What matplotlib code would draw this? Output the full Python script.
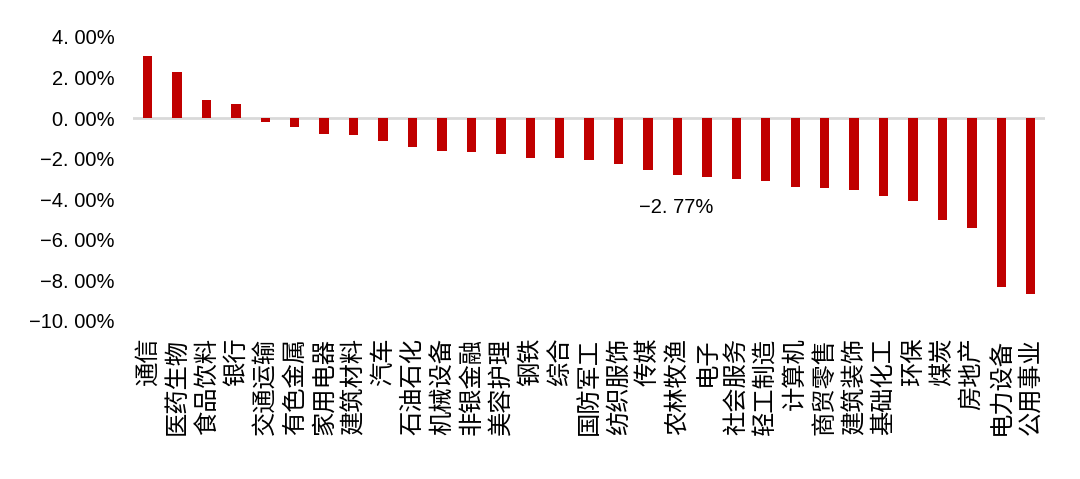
import matplotlib
matplotlib.use("Agg")
import matplotlib.pyplot as plt

plt.rcParams['font.family'] = ['Noto Sans CJK SC', 'DejaVu Sans']

# industry names and weekly change (%)
industries = ['通信', '医药生物', '食品饮料', '银行', '交通运输', '有色金属',
              '家用电器', '建筑材料', '汽车', '石油石化', '机械设备', '非银金融',
              '美容护理', '钢铁', '综合', '国防军工', '纺织服饰', '传媒',
              '农林牧渔', '电子', '社会服务', '轻工制造', '计算机', '商贸零售',
              '建筑装饰', '基础化工', '环保', '煤炭', '房地产', '电力设备',
              '公用事业']
changes = [3.04, 2.25, 0.87, 0.71, -0.21, -0.42, -0.77, -0.83, -1.13, -1.44,
           -1.61, -1.69, -1.76, -1.99, -1.99, -2.08, -2.28, -2.58, -2.79,
           -2.92, -3.02, -3.10, -3.40, -3.46, -3.55, -3.84, -4.07, -5.02,
           -5.40, -8.34, -8.65]
yticks = [4, 2, 0, -2, -4, -6, -8, -10]
note_text = '−2. 77%'

fig = plt.figure(figsize=(10.8, 4.79), dpi=100)
ax = fig.add_axes([0.123, 0.330, 0.845, 0.593])

x = range(len(industries))
ax.bar(x, changes, width=0.32, color='#C00000', zorder=2)
ax.axhline(0, color='#D9D9D9', linewidth=2, zorder=1)

ax.set_xlim(-0.5, len(industries) - 0.5)
ax.set_ylim(-10, 4)
ax.set_yticks(yticks)
ax.set_yticklabels([f'{v:.2f}%'.replace('-', '−').replace('.', '. ')
                    for v in yticks], fontsize=14.5,
                   family=['Liberation Sans', 'DejaVu Sans'])
ax.set_xticks(list(x))
ax.set_xticklabels(industries, rotation=90, fontsize=17.5, va='top')
ax.tick_params(axis='both', length=0)
ax.tick_params(axis='y', pad=13)
ax.tick_params(axis='x', pad=12)
for s in ax.spines.values():
    s.set_visible(False)

ax.text(17.95, -4.4, note_text, fontsize=14.5, ha='center', va='center',
        family=['Liberation Sans', 'DejaVu Sans'])

fig.savefig('out.png', dpi=100, facecolor='white')
